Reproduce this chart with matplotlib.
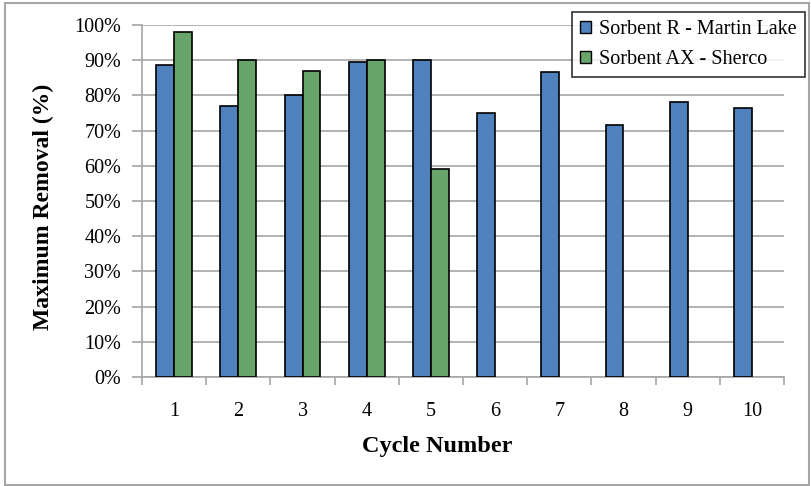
import matplotlib.pyplot as plt
from matplotlib.patches import Rectangle
import numpy as np

cycles = ["1", "2", "3", "4", "5", "6", "7", "8", "9", "10"]
sorbent_r = [88.5, 77, 80, 89.5, 90, 75, 86.7, 71.5, 78, 76.5]
sorbent_ax = [98, 90, 87, 90, 59]
series_names = ["Sorbent R - Martin Lake", "Sorbent AX - Sherco"]

plt.rcParams["font.family"] = ["Liberation Serif", "DejaVu Serif"]

BLUE = "#4f81bd"
GREEN = "#68a56b"
GRID = "#a6a6a6"

fig = plt.figure(figsize=(8.12, 4.86), dpi=100)
ax = fig.add_axes([0.1749, 0.2243, 0.7906, 0.7243])

x = np.arange(len(cycles))
w = 0.28
ax.bar(x[:len(sorbent_r)] - w / 2, sorbent_r, w, color=BLUE,
       edgecolor="black", linewidth=1.2, label=series_names[0], zorder=3)
ax.bar(x[:len(sorbent_ax)] + w / 2, sorbent_ax, w, color=GREEN,
       edgecolor="black", linewidth=1.2, label=series_names[1], zorder=3)

ax.set_xlim(-0.5, len(cycles) - 0.5)
ax.set_ylim(0, 100)
ax.set_yticks(np.arange(0, 101, 10))
ax.set_yticklabels([f"{v}%" for v in range(0, 101, 10)], fontsize=14.5)
ax.set_xticks(x)
ax.set_xticklabels(cycles, fontsize=14.5)
ax.set_xticks(np.arange(-0.5, len(cycles)), minor=True)
ax.tick_params(axis="x", which="major", length=0, pad=18)
ax.tick_params(axis="x", which="minor", length=6, color=GRID, width=1.2)
ax.tick_params(axis="y", length=7, color=GRID, width=1.2, pad=8)

ax.yaxis.grid(True, color=GRID, linewidth=1.2, zorder=0)
for side in ["top", "right"]:
    ax.spines[side].set_visible(False)
for side in ["left", "bottom"]:
    ax.spines[side].set_color(GRID)
    ax.spines[side].set_linewidth(1.2)

ax.set_xlabel("Cycle Number", fontsize=17.5, fontweight="bold")
ax.xaxis.set_label_coords(0.46, -0.168)
ax.set_ylabel("Maximum Removal (%)", fontsize=17, fontweight="bold")
ax.yaxis.set_label_coords(-0.137, 0.483)

leg = ax.legend(loc="upper right", bbox_to_anchor=(0.991, 0.976, 0.0, 0.0),
                bbox_transform=fig.transFigure, fontsize=14.5, frameon=True,
                fancybox=False, edgecolor="black", handlelength=0.55,
                handleheight=0.55, handletextpad=0.4, borderpad=0.4,
                labelspacing=0.55, borderaxespad=0.0)
leg.get_frame().set_linewidth(1.2)
for h in leg.legend_handles:
    h.set_linewidth(1.0)

fig.patches.append(Rectangle((0.006, 0.003), 0.99, 0.99, transform=fig.transFigure,
                             fill=False, edgecolor=GRID, linewidth=1.5))

fig.savefig("out.png", dpi=100)
